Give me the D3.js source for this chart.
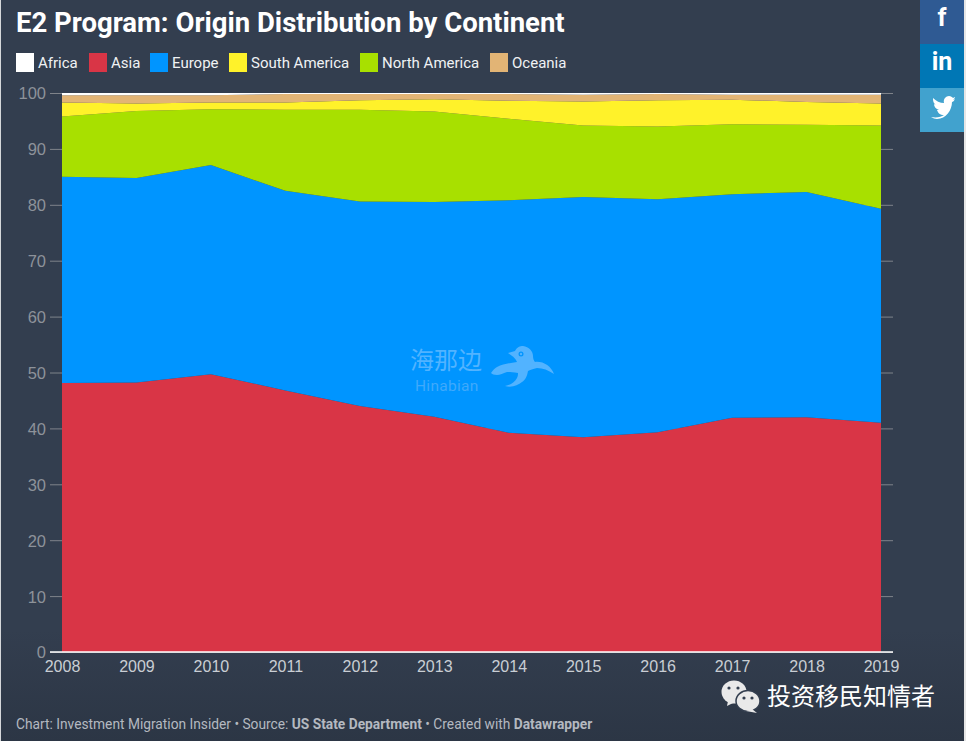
<!DOCTYPE html>
<html>
<head>
<meta charset="utf-8">
<title>E2 Program: Origin Distribution by Continent</title>
<script src="https://cdnjs.cloudflare.com/ajax/libs/d3/7.8.5/d3.min.js"></script>
<style>
  html, body { margin: 0; padding: 0; background: #333e4f; }
  svg { display: block; font-family: Roboto, sans-serif; }
  .y-axis .domain, .x-axis .domain { display: none; }
  .y-axis text { fill: #8d929a; font-size: 16.5px; }
  .x-axis text { fill: #c9ced4; font-size: 16px; }
</style>
</head>
<body>
<svg id="chart" width="966" height="741"></svg>
<script>
const years = [2008, 2009, 2010, 2011, 2012, 2013, 2014, 2015, 2016, 2017, 2018, 2019];
const asia = [48.1, 48.2, 49.7, 46.8, 44.0, 42.1, 39.2, 38.4, 39.3, 41.9, 42.0, 41.0];
const europe = [36.9, 36.6, 37.4, 35.7, 36.6, 38.4, 41.6, 43.0, 41.7, 40.0, 40.3, 38.3];
const northAmerica = [10.8, 12.0, 10.0, 14.5, 16.4, 16.2, 14.6, 12.8, 13.0, 12.5, 12.0, 14.9];
const southAmerica = [2.5, 1.3, 1.2, 1.3, 1.7, 2.2, 3.2, 4.3, 4.7, 4.4, 4.1, 3.9];
const oceania = [1.3, 1.5, 1.3, 1.5, 1.1, 0.9, 1.2, 1.2, 1.1, 0.9, 1.3, 1.6];
const africa = [0.4, 0.4, 0.4, 0.2, 0.2, 0.2, 0.2, 0.3, 0.2, 0.3, 0.3, 0.3];

const yTicks = [0, 10, 20, 30, 40, 50, 60, 70, 80, 90, 100];
const legendNames = ['Africa', 'Asia', 'Europe', 'South America', 'North America', 'Oceania'];
const colors = {
  Africa: '#ffffff',
  Asia: '#d93546',
  Europe: '#0095ff',
  'South America': '#fff22a',
  'North America': '#a8e000',
  Oceania: '#e2b475'
};

// bottom to top, as stacked in the picture
const stackOrder = ['Asia', 'Europe', 'North America', 'South America', 'Oceania', 'Africa'];
const seriesByName = {
  Asia: asia,
  Europe: europe,
  'North America': northAmerica,
  'South America': southAmerica,
  Oceania: oceania,
  Africa: africa
};

const rows = years.map((year, i) => {
  const row = { year };
  stackOrder.forEach(name => { row[name] = seriesByName[name][i]; });
  return row;
});

const svg = d3.select('#chart');

const defs = svg.append('defs');
const bg = defs.append('linearGradient').attr('id', 'bg')
  .attr('x1', 0).attr('y1', 0).attr('x2', 0).attr('y2', 1);
bg.append('stop').attr('offset', '0%').attr('stop-color', '#333e4f');
bg.append('stop').attr('offset', '85%').attr('stop-color', '#333e4f');
bg.append('stop').attr('offset', '100%').attr('stop-color', '#2c3645');

svg.append('rect').attr('width', 966).attr('height', 741).attr('fill', 'url(#bg)');

// pale edges of the screenshot
svg.append('rect').attr('x', 0).attr('width', 1).attr('height', 741).attr('fill', '#d5d7da');
svg.append('rect').attr('x', 964).attr('width', 2).attr('height', 741).attr('fill', '#e6e6e6');

const x = d3.scaleLinear().domain([2008, 2019]).range([62, 881]);
const y = d3.scaleLinear().domain([0, 100]).range([652, 93]);

// title
svg.append('text')
  .attr('x', 16).attr('y', 32)
  .attr('fill', '#ffffff')
  .attr('font-size', 27.5)
  .attr('font-weight', 700)
  .text('E2 Program: Origin Distribution by Continent');

// legend
const legendX = [16, 89, 150, 229, 360, 490];
const legend = svg.append('g').selectAll('g')
  .data(legendNames)
  .enter().append('g')
  .attr('transform', (d, i) => `translate(${legendX[i]},53)`);
legend.append('rect')
  .attr('width', 18).attr('height', 19)
  .attr('fill', d => colors[d]);
legend.append('text')
  .attr('x', 22).attr('y', 15)
  .attr('fill', '#f0f2f4')
  .attr('font-size', 15)
  .text(d => d);

// tick lines run right across, the areas cover them
const yAxis = d3.axisLeft(y)
  .tickValues(yTicks)
  .tickSize(843)
  .tickPadding(4);
svg.append('g')
  .attr('class', 'y-axis')
  .attr('transform', 'translate(893,0)')
  .call(yAxis)
  .call(g => g.selectAll('.tick line').attr('stroke', '#7f838a').attr('stroke-width', 1))
  .call(g => g.selectAll('.tick text').attr('dy', '0.36em'));

// areas
const stack = d3.stack().keys(stackOrder);
const area = d3.area()
  .x(d => x(d.data.year))
  .y0(d => y(d[0]))
  .y1(d => y(d[1]));

svg.append('g')
  .selectAll('path')
  .data(stack(rows))
  .enter().append('path')
  .attr('fill', d => colors[d.key])
  .attr('d', area);

// baseline
svg.append('line')
  .attr('x1', 50).attr('x2', 893)
  .attr('y1', y(0)).attr('y2', y(0))
  .attr('stroke', '#ffffff').attr('stroke-width', 1.5);

const xAxis = d3.axisBottom(x)
  .tickValues(years)
  .tickFormat(d3.format('d'))
  .tickSize(0)
  .tickPadding(9);
svg.append('g')
  .attr('class', 'x-axis')
  .attr('transform', `translate(0,${y(0)})`)
  .call(xAxis);

// Hinabian watermark
const mark = svg.append('g').attr('fill', '#52b3ff');
mark.append('text')
  .attr('x', 410).attr('y', 369)
  .attr('font-family', '"Noto Sans CJK SC"')
  .attr('font-weight', 400)
  .attr('font-size', 24)
  .text('海那边');
mark.append('text')
  .attr('x', 415).attr('y', 391)
  .attr('font-size', 15.5)
  .attr('letter-spacing', 0.3)
  .attr('fill', '#3fa9fb')
  .text('Hinabian');
mark.append('path')
  .attr('d', 'M508,353 L515,351 C517,347 520,346 523,346 C529,347 533,351 533,356 C533,359 534,361 535,362 C543,361 551,366 554,374 C548,370 543,368 537,368 C533,369 530,370 528,371 C527,377 525,380 522,382 C518,385 512,388 505,386 C511,385 515,382 517,378 C518,376 518,374 518,373 C513,372 510,372 507,372 C503,373 500,375 497,375 C494,375 492,374 491,373 C493,370 495,368 497,367 C503,364 510,363 517,362 C516,359 514,357 508,353 Z');
mark.append('circle')
  .attr('cx', 521).attr('cy', 354).attr('r', 2.5)
  .attr('fill', '#0095ff');
mark.append('circle')
  .attr('cx', 521).attr('cy', 354).attr('r', 1.2)
  .attr('fill', '#52b3ff');

// share buttons
const shareColors = ['#2f5a93', '#0077b5', '#41a2ce'];
const shareLabels = ['f', 'in'];
svg.append('g').selectAll('rect')
  .data(shareColors)
  .enter().append('rect')
  .attr('x', 920).attr('y', (d, i) => i * 44)
  .attr('width', 44).attr('height', 44)
  .attr('fill', d => d);
svg.append('g').selectAll('text')
  .data(shareLabels)
  .enter().append('text')
  .attr('x', 942).attr('y', (d, i) => 26 + i * 44)
  .attr('text-anchor', 'middle')
  .attr('fill', '#ffffff')
  .attr('font-size', 25)
  .attr('font-weight', 700)
  .text(d => d);
svg.append('path')
  .attr('fill', '#ffffff')
  .attr('d', 'M931,117 C937,118 941,117 944,115 C940,115 938,113 937,110 L939,110 C936,109 934,107 934,104 L936,105 C933,103 933,100 933,98 C936,101 940,103 944,103 C943,99 946,96 949,96 C951,96 952,97 953,98 L955,97 C955,98 954,99 953,100 L955,99 C954,101 953,102 952,102 C952,110 946,119 937,119 C935,119 933,118 931,117 Z');

// WeChat mark and account name
const wechat = svg.append('g');
wechat.append('ellipse').attr('cx', 734).attr('cy', 692).attr('rx', 12.5).attr('ry', 11.5).attr('fill', '#e9e9e9');
wechat.append('path').attr('d', 'M728,701 L727,706 L735,702 Z').attr('fill', '#e9e9e9');
wechat.append('ellipse').attr('cx', 748).attr('cy', 701).attr('rx', 12).attr('ry', 10.5).attr('fill', '#e9e9e9').attr('stroke', '#333e4f').attr('stroke-width', 1.5);
wechat.append('path').attr('d', 'M752,709 L757,713 L746,711 Z').attr('fill', '#e9e9e9');
wechat.selectAll('circle')
  .data([[729, 688], [738, 688], [744, 698], [752, 698]])
  .enter().append('circle')
  .attr('cx', d => d[0]).attr('cy', d => d[1]).attr('r', 1.6)
  .attr('fill', '#333e4f');

svg.append('text')
  .attr('x', 767).attr('y', 705)
  .attr('font-family', '"Noto Sans CJK SC"')
  .attr('font-size', 24)
  .attr('fill', '#ffffff')
  .text('投资移民知情者');

// footer
const footer = svg.append('text')
  .attr('x', 16).attr('y', 729)
  .attr('font-size', 13.75)
  .attr('fill', '#b4b9c0');
const footerParts = [
  ['Chart: Investment Migration Insider • Source: ', 400],
  ['US State Department', 700],
  [' • Created with ', 400],
  ['Datawrapper', 700]
];
footerParts.forEach(([txt, weight]) => {
  footer.append('tspan').attr('font-weight', weight).text(txt);
});
</script>
</body>
</html>
